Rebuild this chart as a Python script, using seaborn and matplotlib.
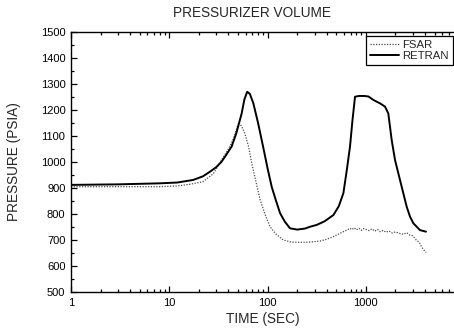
import numpy as np
import pandas as pd
import matplotlib
matplotlib.use("Agg")
import matplotlib.pyplot as plt
import seaborn as sns
from matplotlib.ticker import MultipleLocator, LogLocator, NullFormatter, FixedLocator, FixedFormatter
from matplotlib.lines import Line2D

# ---- data ----
fsar_time = [1, 2, 5, 8, 12, 16, 22, 28, 34, 40, 45, 50, 54, 58.6, 64, 69, 76, 84, 95,
             106, 120, 144, 175, 214, 270, 343, 400, 467, 560, 640, 689, 720, 760, 800,
             850, 900, 950, 1010, 1080, 1150, 1230, 1320, 1400, 1500, 1600, 1720, 1850,
             2000, 2222, 2400, 2600, 2810, 3000, 3250, 3500, 3700, 3950, 4100]
fsar_pres = [905, 905, 905, 905, 908, 914, 924, 955, 1008, 1050, 1090, 1145, 1140, 1110,
             1060, 995, 925, 854, 795, 751, 725, 700, 692, 691, 692, 696, 703, 713, 728,
             738, 745, 740, 747, 739, 745, 737, 744, 740, 736, 743, 734, 740, 732, 737,
             730, 735, 727, 731, 725, 722, 728, 718, 716, 700, 690, 672, 658, 652]

retran_time = [1, 3, 8, 12, 17.5, 22, 26, 30, 34, 38, 43, 48, 54.5, 58, 62, 66, 71.6, 80,
               90, 100, 110, 122, 134, 150, 169, 200, 240, 270, 316, 380, 467, 530, 590,
               640, 689, 730, 775, 850, 960, 1060, 1200, 1400, 1564, 1690, 1829, 1977,
               2222, 2600, 2810, 3043, 3550, 4085]
retran_pres = [912, 914, 918, 921, 931, 945, 963, 980, 1001, 1028, 1059, 1110, 1187, 1240,
               1270, 1262, 1226, 1150, 1059, 975, 905, 850, 803, 770, 745, 740, 744, 751,
               758, 772, 796, 830, 880, 970, 1059, 1160, 1251, 1254, 1254, 1252, 1238,
               1225, 1213, 1187, 1085, 1008, 931, 828, 790, 764, 738, 732]

series_names = ["FSAR", "RETRAN"]
title_text = "PRESSURIZER VOLUME"
xlabel_text = "TIME (SEC)"
ylabel_text = "PRESSURE (PSIA)"
y_major = [500, 600, 700, 800, 900, 1000, 1100, 1200, 1300, 1400, 1500]
x_major = [1, 10, 100, 1000]
x_major_labels = ["1", "10", "100", "1000"]

df = pd.concat([
    pd.DataFrame({"time": fsar_time, "pressure": fsar_pres, "case": series_names[0]}),
    pd.DataFrame({"time": retran_time, "pressure": retran_pres, "case": series_names[1]}),
], ignore_index=True)

sns.set_style("ticks")
plt.rcParams["font.family"] = ["Liberation Sans", "DejaVu Sans"]

W, H = 454, 334
fig = plt.figure(figsize=(W / 100, H / 100), dpi=100)
left, right_px, top_px, bottom_px = 71, 71 + 4 * 98.3, 32, 292
ax = fig.add_axes([left / W, 1 - bottom_px / H, (right_px - left) / W, (bottom_px - top_px) / H])

sns.lineplot(data=df, x="time", y="pressure", hue="case", style="case",
             palette={"FSAR": "#4a4a4a", "RETRAN": "black"},
             dashes={"FSAR": (1, 1.2), "RETRAN": ""},
             size="case", sizes={"FSAR": 0.9, "RETRAN": 1.4},
             sort=False, estimator=None, ax=ax, legend=False)

ax.set_xscale("log")
ax.set_xlim(1, 10000)
ax.set_ylim(500, 1500)
ax.xaxis.set_major_locator(FixedLocator(x_major))
ax.xaxis.set_major_formatter(FixedFormatter(x_major_labels))
ax.xaxis.set_minor_locator(LogLocator(base=10, subs=np.arange(2, 10)))
ax.xaxis.set_minor_formatter(NullFormatter())
ax.yaxis.set_major_locator(FixedLocator(y_major))
ax.yaxis.set_minor_locator(MultipleLocator(50))
ax.tick_params(which="both", direction="in", top=True, right=True, labelsize=8,
               width=0.9, colors="black", pad=4)
ax.tick_params(which="major", length=4)
ax.tick_params(which="minor", length=2.2)
for s in ax.spines.values():
    s.set_linewidth(1.0)
    s.set_color("black")
ax.set_xlabel("")
ax.set_ylabel("")

fig.text(252 / W, 1 - 13 / H, title_text, ha="center", va="center", fontsize=9.8)
fig.text(263 / W, 1 - 319 / H, xlabel_text, ha="center", va="center", fontsize=9.8)
fig.text(14 / W, 1 - 162 / H, ylabel_text, ha="center", va="center", rotation=90, fontsize=9.8)

handles = [Line2D([], [], color="#4a4a4a", lw=0.9, linestyle=(0, (1, 1.2))),
           Line2D([], [], color="black", lw=1.4)]
leg = fig.legend(handles, series_names, loc="upper right",
                 bbox_to_anchor=(452.5 / W, 1 - 36 / H), bbox_transform=fig.transFigure,
                 fontsize=8.2, frameon=True, fancybox=False, framealpha=1,
                 edgecolor="black", handlelength=2.5, handletextpad=0.3,
                 labelspacing=0.12, borderpad=0.35, borderaxespad=0)
leg.get_frame().set_linewidth(0.9)

fig.savefig("out.png", dpi=100)
